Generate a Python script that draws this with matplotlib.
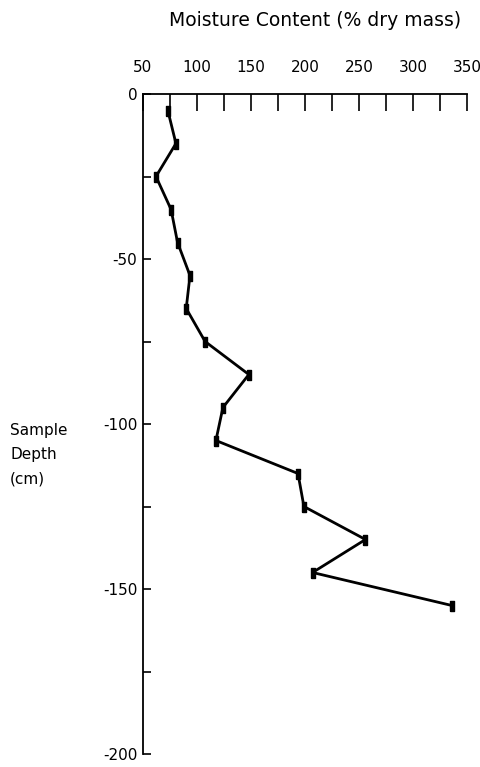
import matplotlib
matplotlib.use("Agg")
import matplotlib.pyplot as plt
from matplotlib.ticker import MultipleLocator

# Moisture profile
depth = [-5, -15, -25, -35, -45, -55, -65, -75, -85, -95, -105, -115, -125, -135, -145, -155]
moisture = [73, 80.5, 62, 76, 82, 93.5, 90, 107.5, 148, 124, 117.5, 193.5, 199, 256, 207, 336]

x_ticks = [50, 100, 150, 200, 250, 300, 350]
y_ticks = [0, -50, -100, -150, -200]

plt.rcParams['font.family'] = ['DejaVu Sans']
plt.rcParams['axes.unicode_minus'] = False

fig = plt.figure(figsize=(4.8, 7.67), dpi=100)
ax = fig.add_axes([143 / 480, 1 - 754 / 767, 324 / 480, 660 / 767])

# vertical bar-shaped marker like the original
rect = [(-0.55, -1), (0.55, -1), (0.55, 1), (-0.55, 1), (-0.55, -1)]
ax.plot(moisture, depth, color='black', lw=2.0, marker=rect, markersize=6.5,
        markerfacecolor='black', markeredgecolor='black', clip_on=False)

ax.set_xlim(50, 350)
ax.set_ylim(-200, 0)

ax.xaxis.tick_top()
ax.set_xticks(x_ticks)
ax.xaxis.set_minor_locator(MultipleLocator(25))
ax.set_yticks(y_ticks)
ax.yaxis.set_minor_locator(MultipleLocator(25))

ax.tick_params(axis='x', which='both', direction='in', length=12, width=1.2,
               labelsize=11, pad=14, top=True, bottom=False)
ax.tick_params(axis='y', which='both', direction='in', length=6, width=1.2,
               labelsize=11, pad=4)

ax.spines['right'].set_visible(False)
ax.spines['bottom'].set_visible(False)
ax.spines['top'].set_linewidth(1.3)
ax.spines['left'].set_linewidth(1.3)

fig.text(315 / 480, 1 - 20 / 767, 'Moisture Content (% dry mass)',
         ha='center', va='center', fontsize=13.5)
fig.text(10 / 480, 1 - 455 / 767, 'Sample\nDepth\n(cm)', ha='left', va='center',
         fontsize=11, linespacing=1.75)

fig.savefig('out.png', dpi=100)
